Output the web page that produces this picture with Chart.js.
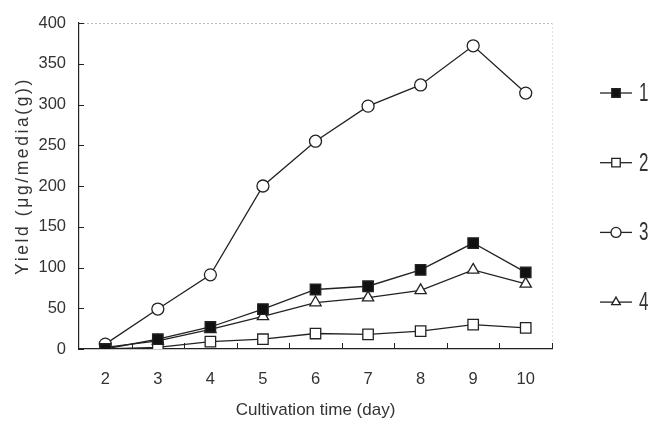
<!DOCTYPE html>
<html>
<head>
<meta charset="utf-8">
<script src="https://cdn.jsdelivr.net/npm/chart.js"></script>
<style>
  html, body { margin: 0; padding: 0; background: #fff; }
  #wrap { width: 650px; height: 422px; }
</style>
</head>
<body>
<div id="wrap"><canvas id="c" width="650" height="422"></canvas></div>
<script>
// ---- data ----
const days = [2, 3, 4, 5, 6, 7, 8, 9, 10];
const series1 = [0, 12, 27, 49, 73, 77, 97, 130, 94];     // filled square
const series2 = [0, 2, 9, 12, 19, 18, 22, 30, 26];        // open square
const series3 = [6, 49, 91, 200, 255, 298, 324, 372, 314]; // open circle
const series4 = [2, 10, 24, 40, 57, 63, 72, 97, 80];       // open triangle
const seriesLabels = ['1', '2', '3', '4'];
const yTicks = [0, 50, 100, 150, 200, 250, 300, 350, 400];
const xTitle = 'Cultivation time (day)';
const yTitle = 'Yield (\u03bcg/media(g))';

const INK = '#222';
const TXT = '#333';
const FONT = '"Liberation Sans", Arial, sans-serif';

function pts(vals) { return days.map((d, i) => ({ x: d, y: vals[i] })); }

const styles = [
  { pointStyle: 'rect', radius: 7.4, fill: '#111' },
  { pointStyle: 'rect', radius: 7.4, fill: '#fff' },
  { pointStyle: 'circle', radius: 6, fill: '#fff' },
  { pointStyle: 'triangle', radius: 6.5, fill: '#fff' }
];
const allSeries = [series1, series2, series3, series4];

const datasets = allSeries.map((s, i) => ({
  label: seriesLabels[i],
  data: pts(s),
  borderColor: INK,
  borderWidth: 1.3,
  backgroundColor: styles[i].fill,
  pointStyle: styles[i].pointStyle,
  pointRadius: styles[i].radius,
  pointBackgroundColor: styles[i].fill,
  pointBorderColor: INK,
  pointBorderWidth: 1.3,
  fill: false,
  tension: 0
}));

function marker(ctx, style, r, x, y, fillCol) {
  ctx.save();
  ctx.beginPath();
  if (style === 'rect') {
    const s = Math.SQRT1_2 * r;
    ctx.rect(x - s, y - s, 2 * s, 2 * s);
  } else if (style === 'circle') {
    ctx.arc(x, y, r, 0, Math.PI * 2);
  } else if (style === 'triangle') {
    const c = Math.cos(Math.PI / 6) * r;
    ctx.moveTo(x, y - r);
    ctx.lineTo(x + c, y + r * 0.5);
    ctx.lineTo(x - c, y + r * 0.5);
    ctx.closePath();
  }
  ctx.fillStyle = fillCol;
  ctx.fill();
  ctx.lineWidth = 1.3;
  ctx.strokeStyle = INK;
  ctx.stroke();
  ctx.restore();
}

const decor = {
  id: 'decor',
  beforeDatasetsDraw(chart) {
    const { ctx, chartArea: a, scales } = chart;
    ctx.save();
    // faint top and right frame
    ctx.strokeStyle = '#bbb';
    ctx.lineWidth = 1;
    ctx.setLineDash([2, 2]);
    ctx.beginPath();
    ctx.moveTo(a.left, a.top + 0.5);
    ctx.lineTo(a.right, a.top + 0.5);
    ctx.stroke();
    ctx.strokeStyle = '#e2e2e2';
    ctx.beginPath();
    ctx.moveTo(a.right + 0.5, a.top);
    ctx.lineTo(a.right + 0.5, a.bottom);
    ctx.stroke();
    ctx.setLineDash([]);
    // inward tick marks
    ctx.strokeStyle = INK;
    ctx.lineWidth = 1;
    ctx.beginPath();
    days.forEach(d => {
      const px = Math.round(scales.x.getPixelForValue(d + 0.5)) + 0.5;
      ctx.moveTo(px, a.bottom);
      ctx.lineTo(px, a.bottom - 6);
    });
    yTicks.forEach(v => {
      const py = Math.round(scales.y.getPixelForValue(v)) + 0.5;
      ctx.moveTo(a.left, py);
      ctx.lineTo(a.left + 5, py);
    });
    ctx.stroke();
    ctx.restore();
  },
  afterDraw(chart) {
    const { ctx, chartArea: a } = chart;
    ctx.save();
    ctx.fillStyle = TXT;
    // x title
    ctx.font = '17px ' + FONT;
    ctx.textAlign = 'center';
    ctx.textBaseline = 'middle';
    ctx.fillText(xTitle, (a.left + a.right) / 2, 410);
    // y title
    ctx.save();
    ctx.translate(23, 176);
    ctx.rotate(-Math.PI / 2);
    ctx.letterSpacing = '2.6px';
    ctx.font = '17.5px ' + FONT;
    ctx.fillText(yTitle, 0, 0);
    ctx.restore();
    // legend
    chart.data.datasets.forEach((ds, i) => {
      const y = 93 + i * 69.7;
      ctx.strokeStyle = INK;
      ctx.lineWidth = 1.3;
      ctx.beginPath();
      ctx.moveTo(600, y);
      ctx.lineTo(632, y);
      ctx.stroke();
      const st = styles[i];
      marker(ctx, st.pointStyle, st.pointStyle === 'rect' ? 6 : 5, 616, y, st.fill);
      ctx.save();
      ctx.translate(639, y + 1);
      ctx.scale(0.68, 1);
      ctx.fillStyle = TXT;
      ctx.font = '25px ' + FONT;
      ctx.textAlign = 'left';
      ctx.textBaseline = 'middle';
      ctx.fillText(ds.label, 0, 0);
      ctx.restore();
    });
    ctx.restore();
  }
};

new Chart(document.getElementById('c'), {
  type: 'line',
  data: { datasets },
  options: {
    responsive: false,
    animation: false,
    layout: { padding: { left: 0, right: 98, top: 23, bottom: 0 } },
    plugins: { legend: { display: false }, tooltip: { enabled: false } },
    scales: {
      x: {
        type: 'linear',
        min: 1.5,
        max: 10.5,
        afterBuildTicks: s => { s.ticks = days.map(v => ({ value: v })); },
        afterFit: s => { s.height = 73; },
        grid: { display: false, drawTicks: false },
        border: { display: true, color: INK, width: 1.2 },
        ticks: { color: TXT, font: { family: FONT, size: 16.5 }, padding: 21 }
      },
      y: {
        min: 0,
        max: 400,
        afterBuildTicks: s => { s.ticks = yTicks.map(v => ({ value: v })); },
        afterFit: s => { s.width = 79; },
        grid: { display: false, drawTicks: false },
        border: { display: true, color: INK, width: 1.2 },
        ticks: { color: TXT, font: { family: FONT, size: 16.5 }, padding: 13 }
      }
    }
  },
  plugins: [decor]
});
</script>
</body>
</html>
